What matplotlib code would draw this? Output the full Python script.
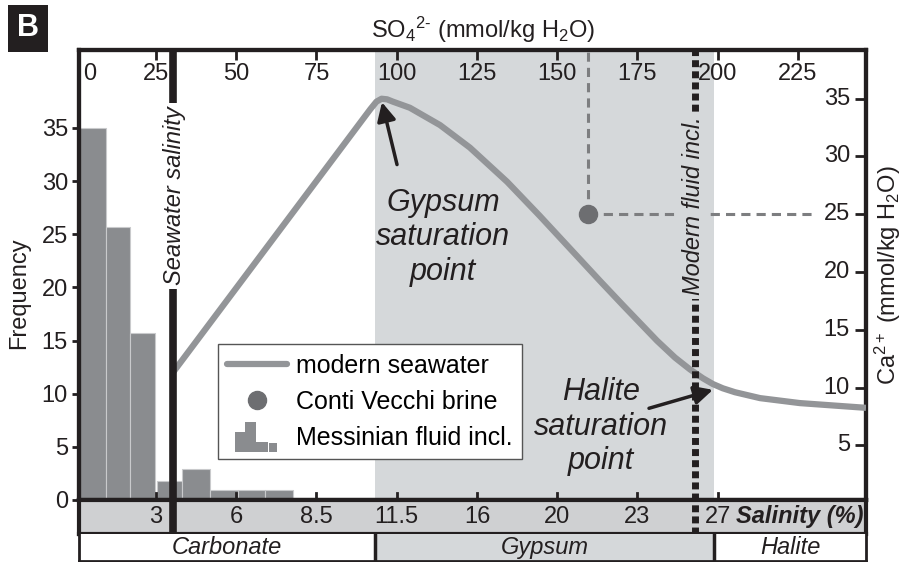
import matplotlib
matplotlib.use('Agg')
import matplotlib.pyplot as plt
from matplotlib.patches import Rectangle
from matplotlib.lines import Line2D
from matplotlib.legend_handler import HandlerBase
import matplotlib.transforms as mtransforms

plt.rcParams['font.family'] = ['Liberation Sans', 'DejaVu Sans']
plt.rcParams['mathtext.fontset'] = 'custom'
plt.rcParams['mathtext.rm'] = 'Liberation Sans'
plt.rcParams['mathtext.it'] = 'Liberation Sans:italic'
plt.rcParams['mathtext.bf'] = 'Liberation Sans:bold'

# ---------------- data ----------------
so4_ticks = [25, 50, 75, 100, 125, 150, 175, 200, 225]
so4_labels = ['0', '25', '50', '75', '100', '125', '150', '175', '200', '225']
so4_label_pos = [0, 25, 50, 75, 100, 125, 150, 175, 200, 225]
salinity_pos = [25, 50, 75, 100, 125, 150, 175, 200]
salinity_labels = ['3', '6', '8.5', '11.5', '16', '20', '23', '27']
ca_ticks = [5, 10, 15, 20, 25, 30, 35]
freq_ticks = [0, 5, 10, 15, 20, 25, 30, 35]

hist_left = [1.0, 9.4, 16.9, 25.3, 33.2, 41.9, 50.6, 59.0]
hist_right = [9.4, 16.9, 24.7, 33.2, 41.9, 50.6, 59.0, 67.7]
hist_freq = [35.0, 25.7, 15.7, 1.8, 2.9, 0.9, 0.9, 0.9]

seawater_so4 = [30.3, 91.8, 93.7, 95.3, 97.0, 98.8, 104.1, 113.5, 122.8, 134.4,
                144.6, 154.9, 163.3, 170.5, 181.1, 186.7, 191.4, 195.4, 198.5,
                201.6, 205.4, 213.2, 225.6, 246.2]
seawater_ca = [11.3, 34.1, 34.75, 35.0, 34.95, 34.75, 34.22, 32.72, 30.77, 27.81,
               24.85, 21.76, 19.24, 17.12, 14.05, 12.59, 11.56, 10.8, 10.3,
               9.93, 9.59, 9.08, 8.65, 8.24]

conti_so4 = 159.6
conti_ca = 25.0
conti_line_end = 231.0

seawater_salinity_so4 = 30.3
modern_fluid_so4 = 192.9
zone_names = ['Carbonate', 'Gypsum', 'Halite']
zone_edges = [1.03, 93.2, 199.0, 246.2]

XLIM = (1.03, 246.2)
FREQ_LIM = (0, 42.33)
CA_LIM = (0.26, 39.22)

# ---------------- styles ----------------
SHADE = '#d5d8da'
STRIP = '#cfd0d2'
BAR = '#8a8c8f'
CURVE = '#939598'
DOT = '#6d6e71'
BLACK = '#231f20'

fig = plt.figure(figsize=(9.04, 5.62), dpi=100)
W, H = 904, 562


def rect(x0, y0, x1, y1):
    return [x0 / W, 1 - y1 / H, (x1 - x0) / W, (y1 - y0) / H]


ax = fig.add_axes(rect(79, 50, 866, 500))
ax.set_xlim(*XLIM)
ax.set_ylim(*FREQ_LIM)
ax2 = ax.twinx()
ax2.set_ylim(*CA_LIM)
ax2.set_xlim(*XLIM)

for a in (ax, ax2):
    for s in a.spines.values():
        s.set_linewidth(3)
        s.set_color(BLACK)

# shading
ax.axvspan(zone_edges[1], zone_edges[2], color=SHADE, lw=0, zorder=0)

# histogram
ax.bar(hist_left, hist_freq, width=[r - l for l, r in zip(hist_left, hist_right)],
       align='edge', color=BAR, edgecolor='#c9cacc', linewidth=0.8, zorder=2)

# left axis ticks
ax.set_yticks(freq_ticks)
ax.tick_params(axis='y', direction='out', length=5, width=2, labelsize=17, pad=3, colors=BLACK)
ax.set_ylabel('Frequency', fontsize=17, color=BLACK)
ax.yaxis.set_label_coords(-0.062, 0.46)

# top ticks (inward)
ax.set_xticks(so4_ticks)
ax.tick_params(axis='x', top=True, bottom=False, direction='in', length=7, width=2,
               labelbottom=False, labeltop=False, colors=BLACK)
# bottom inward ticks (salinity)
for p in salinity_pos:
    ax.plot([p, p], [0, 0.7], color=BLACK, lw=2, zorder=5, clip_on=False)

trans_top = mtransforms.blended_transform_factory(ax.transData, ax.transAxes)
for p, lab in zip(so4_label_pos, so4_labels):
    off = mtransforms.ScaledTranslation(14 / 100 if p == 0 else 0, -24.5 / 100, fig.dpi_scale_trans)
    ax.text(p, 1, lab, transform=trans_top + off,
            ha='center', va='center', fontsize=17, color=BLACK)

fig.text(483 / W, 1 - 30 / H, r'SO$_4$$^{2\text{-}}$ (mmol/kg H$_2$O)', ha='center', va='center',
         fontsize=17, color=BLACK)

# right axis
ax2.set_yticks(ca_ticks)
ax2.tick_params(axis='y', direction='in', length=8, width=2, labelright=False, colors=BLACK)
trans_r = mtransforms.blended_transform_factory(ax2.transAxes, ax2.transData)
for t in ca_ticks:
    ax2.text(1, t, str(t), transform=trans_r + mtransforms.ScaledTranslation(-16 / 100, 0, fig.dpi_scale_trans),
             ha='right', va='center', fontsize=17, color=BLACK)
ax2.set_ylabel(r'Ca$^{2+}$ (mmol/kg H$_2$O)', fontsize=17, color=BLACK, labelpad=5)

# seawater curve
ax2.plot(seawater_so4, seawater_ca, color=CURVE, lw=4.5, solid_joinstyle='round',
         solid_capstyle='butt', zorder=3)

# Conti Vecchi point and guides
ax2.plot([conti_so4, conti_so4], [conti_ca, CA_LIM[1]], color='#7d7e80', lw=2.2,
         ls=(0, (3, 2)), zorder=3)
ax2.plot([conti_so4, conti_line_end], [conti_ca, conti_ca], color='#7d7e80', lw=2.2,
         ls=(0, (3, 2)), zorder=3)
ax2.plot([conti_so4], [conti_ca], 'o', ms=13, color=DOT, zorder=6)

# vertical reference lines
ax2.axvline(seawater_salinity_so4, color=BLACK, lw=5.5, zorder=4)
ax2.axvline(modern_fluid_so4, color=BLACK, lw=5, ls=(0, (1.0, 0.6)), zorder=4)
trans_v = mtransforms.blended_transform_factory(ax2.transData, fig.transFigure)
ax2.text(seawater_salinity_so4 + 0.6, 1 - 196 / H, 'Seawater salinity', transform=trans_v,
         rotation=90, ha='center', va='center', fontsize=17, style='italic', color=BLACK,
         zorder=5, bbox=dict(facecolor='white', edgecolor='none', pad=2.5))
ax2.text(modern_fluid_so4 - 0.3, 1 - 206 / H, 'Modern fluid incl.', transform=trans_v,
         rotation=90, ha='center', va='center', fontsize=17, style='italic', color=BLACK,
         zorder=5, bbox=dict(facecolor=SHADE, edgecolor='none', pad=2.5))

# annotations
ax2.text(114.4, 23.0, 'Gypsum\nsaturation\npoint', ha='center', va='center', fontsize=22,
         style='italic', color=BLACK, linespacing=1.2, zorder=5)
ax2.annotate('', xy=(95.4, 34.7), xytext=(100.1, 29.3),
             arrowprops=dict(arrowstyle='-|>', lw=2.5, color=BLACK, mutation_scale=28,
                             shrinkA=0, shrinkB=0), zorder=5)
ax2.text(163.6, 6.6, 'Halite\nsaturation\npoint', ha='center', va='center', fontsize=22,
         style='italic', color=BLACK, linespacing=1.2, zorder=5)
ax2.annotate('', xy=(198.5, 9.8), xytext=(178.6, 8.2),
             arrowprops=dict(arrowstyle='-|>', lw=2.5, color=BLACK, mutation_scale=28,
                             shrinkA=0, shrinkB=0), zorder=5)


# legend
class HistHandler(HandlerBase):
    def create_artists(self, legend, orig_handle, xdescent, ydescent, width, height,
                       fontsize, trans):
        parts = [(0.13, 0.30, 0.67), (0.30, 0.47, 1.0), (0.47, 0.67, 0.33), (0.685, 0.83, 0.30)]
        arts = []
        y0 = -0.45 * height
        hh = 1.75 * height
        for x0, x1, h in parts:
            r = Rectangle((x0 * width - xdescent, y0 - ydescent), (x1 - x0) * width, h * hh,
                          facecolor=BAR, edgecolor='none', transform=trans)
            arts.append(r)
        return arts


class HistProxy:
    pass


h_line = Line2D([], [], color=CURVE, lw=4.5, solid_capstyle='round')
h_dot = Line2D([], [], ls='', marker='o', ms=13, color=DOT)
h_hist = HistProxy()
leg = ax2.legend([h_line, h_dot, h_hist],
                 ['modern seawater', 'Conti Vecchi brine', 'Messinian fluid incl.'],
                 handler_map={HistProxy: HistHandler()},
                 loc='lower left', bbox_to_anchor=(0.1766, 0.0911), borderaxespad=0,
                 fontsize=18, handlelength=2.4, handletextpad=0.35, labelspacing=0.48,
                 borderpad=0.38, fancybox=False, framealpha=1, edgecolor='#555555')
leg.get_frame().set_linewidth(1.0)
leg.set_zorder(10)

# salinity strip
axs = fig.add_axes(rect(79, 500, 866, 534))
axs.set_xlim(*XLIM)
axs.set_ylim(0, 1)
axs.set_facecolor(STRIP)
axs.set_xticks([])
axs.set_yticks([])
for s in axs.spines.values():
    s.set_linewidth(3)
    s.set_color(BLACK)
for p, lab in zip(salinity_pos, salinity_labels):
    axs.text(p, 0.5, lab, ha='center', va='center', fontsize=17, color=BLACK)
axs.text(0.997, 0.5, 'Salinity (%)', transform=axs.transAxes, ha='right', va='center',
         fontsize=17, fontweight='bold', style='italic', color=BLACK)
axs.axvline(seawater_salinity_so4, color=BLACK, lw=5.5)
axs.axvline(modern_fluid_so4, color=BLACK, lw=5, ls=(0, (1.0, 0.6)))

# mineral strip
axm = fig.add_axes(rect(79, 534, 866, 561))
axm.set_xlim(*XLIM)
axm.set_ylim(0, 1)
axm.set_xticks([])
axm.set_yticks([])
for s in axm.spines.values():
    s.set_linewidth(2)
    s.set_color(BLACK)
axm.spines['top'].set_visible(False)
axm.axvspan(zone_edges[1], zone_edges[2], color=SHADE, lw=0)
for e in zone_edges[1:-1]:
    axm.axvline(e, color=BLACK, lw=2.5)
for i, name in enumerate(zone_names):
    axm.text((zone_edges[i] + zone_edges[i + 1]) / 2, 0.5, name, ha='center', va='center',
             fontsize=17, style='italic', color=BLACK)

# panel label
fig.text(28 / W, 1 - 28.5 / H, 'B', ha='center', va='center', fontsize=22, fontweight='bold',
         color='white', bbox=dict(facecolor=BLACK, edgecolor='none', boxstyle='square,pad=0.28'))

fig.savefig('out.png', dpi=100)
